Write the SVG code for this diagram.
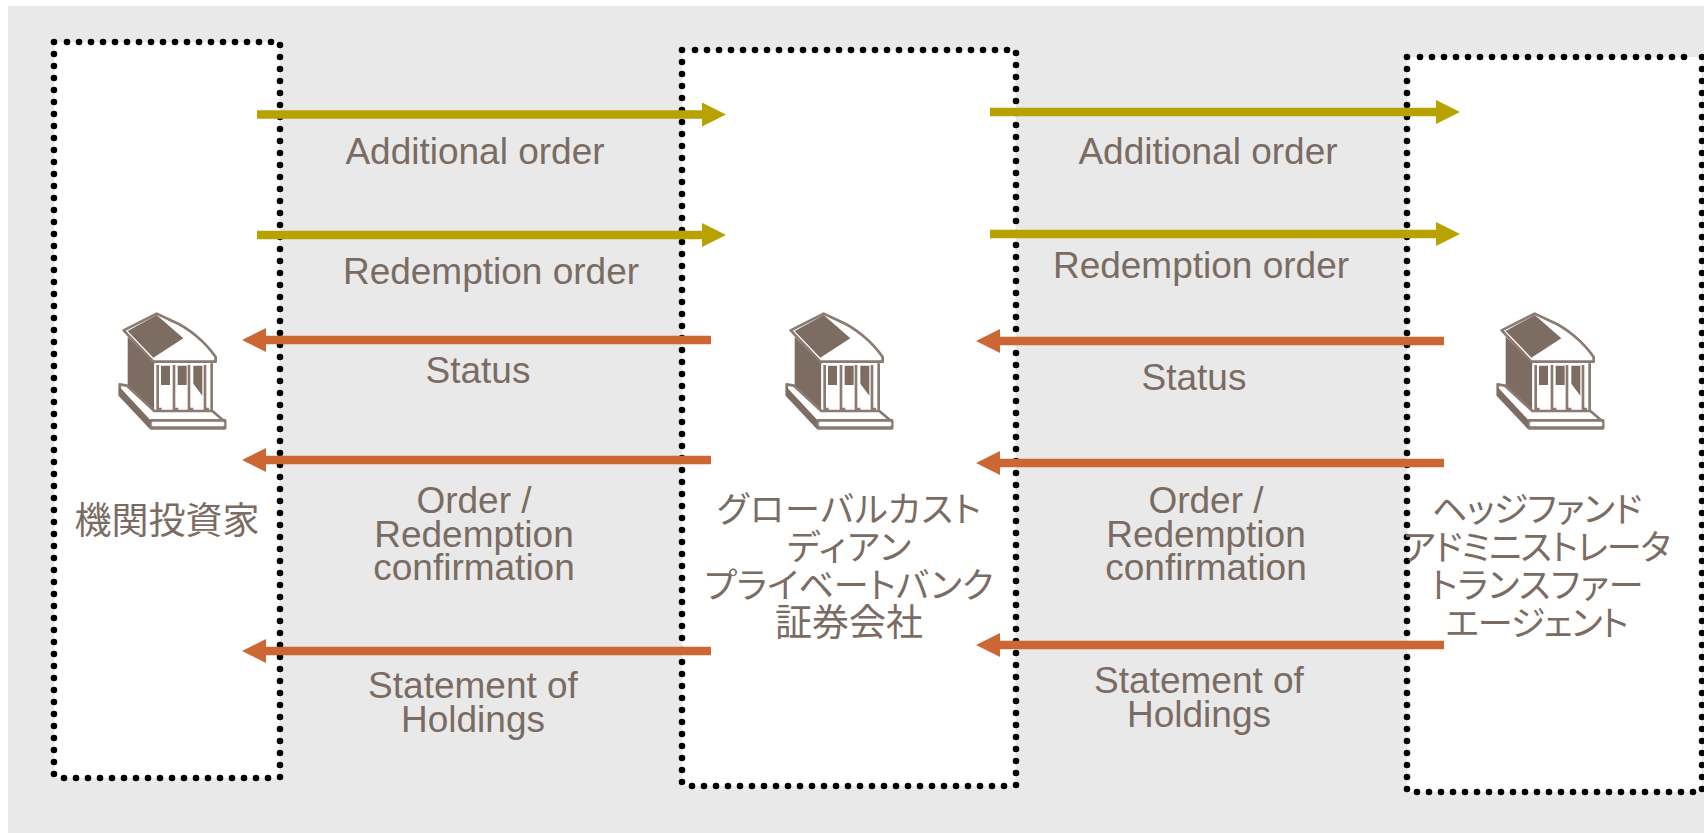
<svg xmlns="http://www.w3.org/2000/svg" width="1704" height="833" viewBox="0 0 1704 833">
<style>
.fill{fill:#fff}
.dots{fill:none;stroke:#000;stroke-width:6.6;stroke-linecap:round;stroke-dasharray:0 12}
.g{stroke:#b8a200;stroke-width:8.5;fill:none;marker-end:url(#ag)}
.o{stroke:#cc6633;stroke-width:8.5;fill:none;marker-end:url(#ao)}
text{font-family:"Liberation Sans","Noto Sans CJK JP",sans-serif;font-size:37px;fill:#7a6c63;text-anchor:middle}
.j{font-family:"Noto Sans CJK JP","Liberation Sans",sans-serif;font-feature-settings:"palt";fill:#7a6c63}
.k{font-size:35px}
.d{fill:#7d6c62}.w{fill:#fff;stroke:#8a7a70;stroke-width:8;stroke-linejoin:round}.n{fill:#fff}
</style>
<defs>
<marker id="ag" markerUnits="userSpaceOnUse" markerWidth="26" markerHeight="26" refX="2" refY="13" orient="auto"><path d="M2 1L26 13L2 25Z" fill="#b8a200"/></marker>
<marker id="ao" markerUnits="userSpaceOnUse" markerWidth="26" markerHeight="26" refX="2" refY="13" orient="auto"><path d="M2 1L26 13L2 25Z" fill="#cc6633"/></marker>
<g id="bank" transform="translate(115 305) scale(.3333)">
<path class="d" d="M38 95L118 172V320L38 242Z"/>
<path class="n" d="M118 178H292V320H118Z"/>
<path class="d" d="M138 182H165V240H138ZM188 182H215V240H188ZM235 182H262V272L235 236Z"/>
<path class="w" d="M14 238L36 242L118 318H292L330 350V370H108L14 270Z"/>
<path class="d" d="M13 245L106 345V372L13 272Z"/>
<path class="w" d="M108 346H330V368H108Z"/>
<path d="M110 357H328" stroke="#fff" stroke-width="7"/>
<path class="w" d="M26 76L125 26L172 48C220 68 270 110 302 156V170H115Z"/>
<path class="d" d="M38 78L125 30L205 100L115 158Z"/>
<path d="M128 180V312H140M177 180V312H190M222 180V312H235M270 180V312H282M290 175V320" fill="none" stroke="#8a7a70" stroke-width="8"/>
</g>
</defs>
<rect x="8" y="6" width="1696" height="827" fill="#e9e9e9"/>
<g id="node-investor">
<rect class="fill" x="54" y="42" width="226" height="736"/>
<path class="dots" d="M54 42V776M67 42H274M280 45V778M64 778H275"/>
<use href="#bank"/>
<text class="j" x="167" y="534">機関投資家</text></g>
<g id="node-custodian">
<rect class="fill" x="682" y="50" width="334" height="736"/>
<path class="dots" d="M682 50V784M695 50H1010M1016 53V786M692 786H1011"/>
<use href="#bank" x="667"/>
<text class="j k" x="849" y="522" textLength="264">グローバルカスト</text>
<text class="j k" x="849" y="560" textLength="124">ディアン</text>
<text class="j k" x="849" y="598" textLength="289">プライベートバンク</text>
<text class="j" x="849" y="636">証券会社</text></g>
<g id="node-admin">
<rect class="fill" x="1407" y="57" width="295" height="735"/>
<path class="dots" d="M1407 57V790M1420 57H1696M1702 57V790M1417 792H1696"/>
<use href="#bank" x="1378"/>
<text class="j k" x="1537" y="522" textLength="210">ヘッジファンド</text>
<text class="j k" x="1537" y="560" textLength="268">アドミニストレータ</text>
<text class="j k" x="1537" y="598" textLength="213">トランスファー</text>
<text class="j k" x="1537" y="636" textLength="183">エージェント</text></g>
<g id="connectors">
<path class="g" d="M257 114.500H702"/><path class="g" d="M257 235H702"/>
<path class="o" d="M711 340H266"/><path class="o" d="M711 460H266"/><path class="o" d="M711 651H266"/>
<path class="g" d="M990 112H1436"/><path class="g" d="M990 234H1436"/>
<path class="o" d="M1444 341H1000"/><path class="o" d="M1444 463H1000"/><path class="o" d="M1444 645H1000"/>
</g>
<g id="labels">
<text x="475" y="164">Additional order</text>
<text x="491" y="284">Redemption order</text>
<text x="478" y="383">Status</text>
<text x="474" y="513">Order /</text><text x="474" y="546.500">Redemption</text><text x="474" y="580">confirmation</text>
<text x="473" y="698">Statement of</text><text x="473" y="731.500">Holdings</text>
<text x="1208" y="164">Additional order</text>
<text x="1201" y="278">Redemption order</text>
<text x="1194" y="390">Status</text>
<text x="1206" y="513">Order /</text><text x="1206" y="546.500">Redemption</text><text x="1206" y="580">confirmation</text>
<text x="1199" y="693">Statement of</text><text x="1199" y="726.500">Holdings</text>
</g>
</svg>
